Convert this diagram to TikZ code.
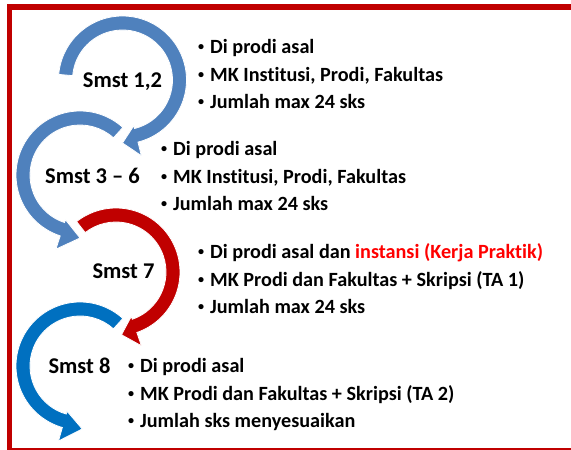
\documentclass[tikz,border=0pt]{standalone}
\usepackage{fontspec}
\usepackage{graphicx}
\setmainfont{Carlito}[Ligatures=NoCommon]
\definecolor{ringlight}{HTML}{4F81BD}
\definecolor{ringred}{HTML}{C00000}
\definecolor{ringdark}{HTML}{0070C0}
\definecolor{framered}{HTML}{C00000}
\definecolor{hilite}{HTML}{FF0000}
% circular arrow: #1 centre, #2 start angle, #3 angle of the head base, #4 tip angle, #5 colour
\newcommand\ringarrow[5]{%
  \begin{scope}[shift={(#1)}]
    \fill[#5, draw=white, line width=0.8pt]
      (#2:64) arc[start angle=#2, end angle=#3, radius=64]
      -- (#3:78) -- (#4:63) -- (#3:47) -- (#3:50)
      arc[start angle=#3, end angle=#2, radius=50] -- cycle;
  \end{scope}}
% small bullet followed by the gap before the item text
\newcommand\itm{\makebox[13pt][l]{\hspace{1pt}\raisebox{3.4pt}{\scalebox{0.6}{\textbullet}}}}
\begin{document}
\begin{tikzpicture}[x=1pt,y=1pt,
  semlabel/.style={font=\fontsize{22.5}{26}\selectfont\bfseries, inner sep=0pt, anchor=base},
  itemline/.style={font=\fontsize{20.2}{24}\selectfont\bfseries, inner sep=0pt, anchor=base west}]
\useasboundingbox (0,0) rectangle (571,450);
\clip (0,0) rectangle (571,450);
\fill[white] (0,0) rectangle (571,450);
% frame
\draw[framered, line width=5.5pt] (9.5,-0.8) rectangle (590,443);
% ring centres
\coordinate (c1) at (122.5,370);
\coordinate (c2) at (80,275);
\coordinate (c3) at (116,178);
\coordinate (c4) at (80,84);
% circular arrows
\ringarrow{c1}{175}{-76}{-90}{ringlight}
\ringarrow{c2}{48}{252}{270}{ringlight}
\ringarrow{c3}{128}{-71}{-85}{ringred}
\ringarrow{c4}{48}{254}{272}{ringdark}
% semester labels
\node[semlabel] (s1) at (122.5,362.7) {Smst 1,2};
\node[semlabel] (s2) at (92.5,266.7) {Smst 3 -- 6};
\node[semlabel] (s3) at (123.5,171.7) {Smst 7};
\node[semlabel] (s4) at (79.5,76) {Smst 8};
% semester 1,2
\node[itemline] (a1) at (197,396) {\itm Di prodi asal};
\node[itemline] (a2) at (197,368.5) {\itm MK Institusi, Prodi, Fakultas};
\node[itemline] (a3) at (197,341) {\itm Jumlah max 24 sks};
% semester 3-6
\node[itemline] (b1) at (160,294) {\itm Di prodi asal};
\node[itemline] (b2) at (160,266.5) {\itm MK Institusi, Prodi, Fakultas};
\node[itemline] (b3) at (160,239) {\itm Jumlah max 24 sks};
% semester 7
\node[itemline] (d1) at (197,191) {\itm Di prodi asal dan \textcolor{hilite}{instansi (Kerja Praktik)}};
\node[itemline] (d2) at (197,163.5) {\itm MK Prodi dan Fakultas + Skripsi (TA 1)};
\node[itemline] (d3) at (197,136) {\itm Jumlah max 24 sks};
% semester 8
\node[itemline] (e1) at (127,77) {\itm Di prodi asal};
\node[itemline] (e2) at (127,49.5) {\itm MK Prodi dan Fakultas + Skripsi (TA 2)};
\node[itemline] (e3) at (127,22) {\itm Jumlah sks menyesuaikan};
\end{tikzpicture}
\end{document}
